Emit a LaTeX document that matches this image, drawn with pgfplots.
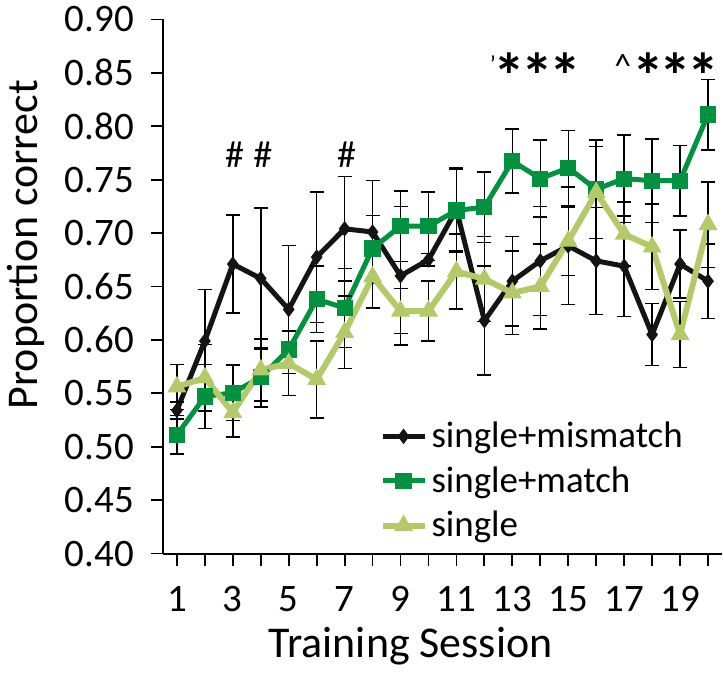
\documentclass[border=0pt]{standalone}
\usepackage{fontspec}
\setmainfont{Carlito}
\usepackage{pgfplots}
\usepackage{pgfplotstable}
\pgfplotsset{compat=1.18}
\definecolor{cblack}{RGB}{20,20,20}
\definecolor{cgreen}{RGB}{0,146,62}
\definecolor{clight}{RGB}{180,202,104}

\pgfplotstableread{
x y err
1 0.534 0.008
2 0.599 0.048
3 0.671 0.046
4 0.6575 0.066
5 0.6285 0.060
6 0.6775 0.061
7 0.704 0.049
8 0.701 0.048
9 0.660 0.065
10 0.675 0.006
11 0.722 0.039
12 0.618 0.051
13 0.655 0.042
14 0.674 0.051
15 0.688 0.055
16 0.674 0.050
17 0.669 0.047
18 0.605 0.029
19 0.671 0.032
20 0.655 0.035
}\mismatch

\pgfplotstableread{
x y err
1 0.511 0.018
2 0.547 0.030
3 0.5505 0.026
4 0.565 0.028
5 0.591 0.018
6 0.638 0.031
7 0.630 0.037
8 0.6856 0.031
9 0.7065 0.033
10 0.7065 0.032
11 0.7212 0.039
12 0.7243 0.033
13 0.7674 0.030
14 0.751 0.036
15 0.761 0.035
16 0.741 0.046
17 0.751 0.041
18 0.749 0.039
19 0.749 0.033
20 0.811 0.033
}\match

\pgfplotstableread{
x y err
1 0.556 0.021
2 0.5645 0.031
3 0.532 0.023
4 0.572 0.029
5 0.578 0.030
6 0.563 0.036
7 0.607 0.034
8 0.659 0.029
9 0.627 0.021
10 0.627 0.028
11 0.664 0.035
12 0.657 0.040
13 0.644 0.039
14 0.650 0.040
15 0.6925 0.032
16 0.738 0.043
17 0.699 0.030
18 0.687 0.040
19 0.605 0.031
20 0.708 0.040
}\single

\begin{document}
\begin{tikzpicture}
\begin{axis}[
  scale only axis,
  width=280pt, height=267.5pt,
  xmin=0.5, xmax=20.5,
  ymin=0.4, ymax=0.9,
  axis x line=bottom, axis y line=left,
  axis line style={line width=1pt, -},
  tick align=outside,
  major tick length=6pt,
  tick style={line width=0.9pt, black},
  xtick={1,...,20},
  xticklabels={1,,3,,5,,7,,9,,11,,13,,15,,17,,19,},
  ytick={0.40,0.45,...,0.901},
  yticklabel style={/pgf/number format/fixed, /pgf/number format/fixed zerofill, /pgf/number format/precision=2, xshift=-5pt},
  xticklabel style={yshift=-7pt},
  /pgf/number format/assume math mode=true,
  ticklabel style={font=\fontsize{19.5}{22}\selectfont},
  xlabel={Training Session},
  ylabel={Proportion correct},
  label style={font=\fontsize{22}{26}\selectfont},
  xlabel style={at={(axis description cs:0.443,-0.174)}, anchor=center},
  ylabel style={at={(axis description cs:-0.246,0.578)}, anchor=center},
  clip=false,
  legend cell align=left,
  legend style={draw=none, fill=none, font=\fontsize{18.5}{21}\selectfont,
    at={(rel axis cs:0.376,0.262)}, anchor=north west, row sep=4pt},
  legend image code/.code={\draw[mark repeat=2,mark phase=2] plot coordinates {(0cm,0cm)(0.37cm,0cm)(0.74cm,0cm)};},
  error bars/error bar style={black, line width=0.75pt},
  error bars/error mark options={rotate=90, mark size=3.5pt, black, line width=0.75pt},
]
\addplot[cblack, line width=2.5pt, mark=diamond*, mark size=3.5pt, mark options={line width=0.5pt},
  error bars/.cd, y dir=both, y explicit] table[x=x, y=y, y error=err] {\mismatch};
\addlegendentry{single+mismatch}
\addplot[cgreen, line width=2.5pt, mark=square*, mark size=3.8pt, mark options={line width=0.5pt},
  error bars/.cd, y dir=both, y explicit] table[x=x, y=y, y error=err] {\match};
\addlegendentry{single+match}
\addplot[clight, line width=3pt, mark=triangle*, mark size=5pt, mark options={line width=0.5pt},
  error bars/.cd, y dir=both, y explicit] table[x=x, y=y, y error=err] {\single};
\addlegendentry{single}

\node[font=\fontsize{19}{19}\selectfont] at (axis cs:3.06,0.773) {\#};
\node[font=\fontsize{19}{19}\selectfont] at (axis cs:4.07,0.773) {\#};
\node[font=\fontsize{19}{19}\selectfont] at (axis cs:7.07,0.773) {\#};
\node[font=\fontsize{12}{12}\selectfont] at (axis cs:12.3,0.858) {'};
\node[font=\fontsize{17}{17}\selectfont] at (axis cs:16.95,0.856) {\textasciicircum};
\pgfplotsinvokeforeach{12.9,13.9,14.9,17.85,18.85,19.85}{
  \node[font=\fontsize{32}{32}\selectfont\bfseries, inner sep=0pt] at (axis cs:#1,0.847) {*};
}
\path (rel axis cs:-0.2893,1.0224) rectangle (rel axis cs:1.0036,-0.2243);
\end{axis}
\end{tikzpicture}
\end{document}
